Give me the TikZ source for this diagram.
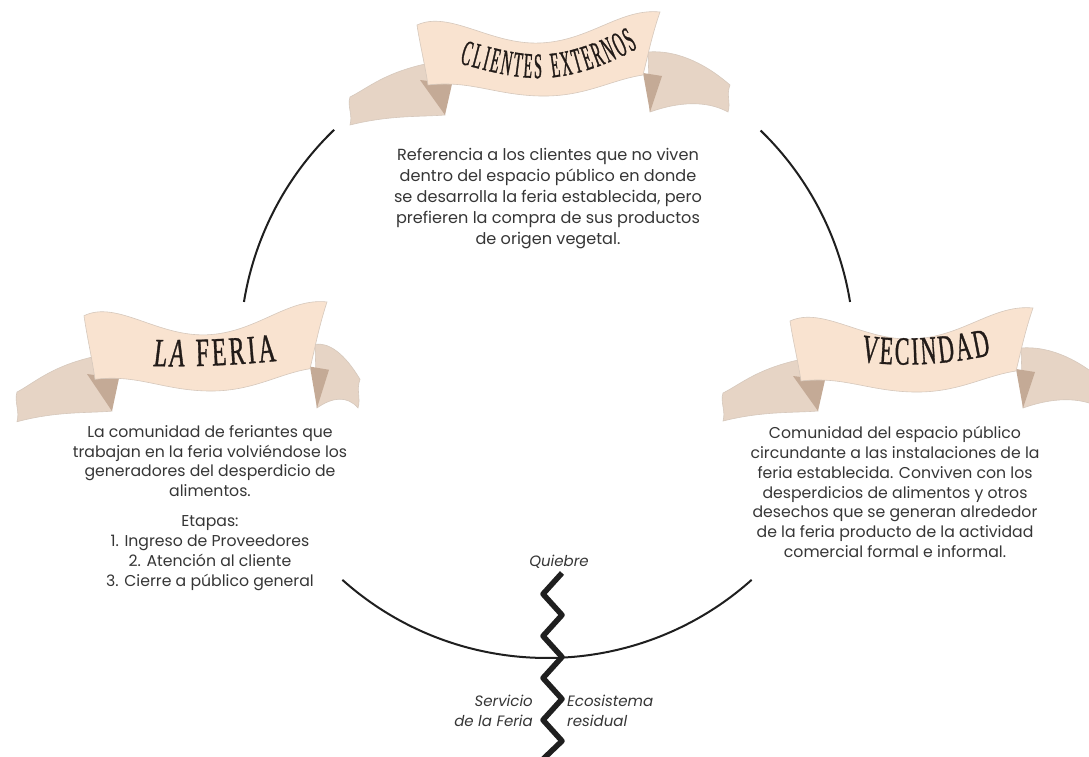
\documentclass[tikz,border=0pt]{standalone}
\usepackage{fontspec}
\setmainfont{Poppins}
\newfontfamily\bannerA[FakeStretch=0.4, FakeBold=0.8]{Liberation Serif}
\newfontfamily\bannerB[FakeStretch=0.6, FakeBold=0.8]{Liberation Serif}
\newfontfamily\bannerC[FakeStretch=0.55, FakeBold=0.8]{Liberation Serif}
\usetikzlibrary{decorations.text}

\definecolor{ink}{HTML}{1F1F1F}
\definecolor{bodytxt}{HTML}{363636}
\definecolor{ribbon}{HTML}{F9E3D0}
\definecolor{tail}{HTML}{E6D4C5}
\definecolor{fold}{HTML}{C4AA96}
\definecolor{edge}{HTML}{D6C8BC}
\definecolor{titleink}{HTML}{221B18}

% letter followed by a little tracking, kept as one box on the path
\newcommand{\tk}[1]{{#1\kern2.3pt}}
\newcommand{\tw}[1]{{#1\kern2.8pt}}
% gap between two words on a path
\newcommand{\wordgap}[1]{{\kern#1}}

\tikzset{
  ringline/.style={draw=ink, line width=2pt},
  breakline/.style={draw=ink, line width=5.5pt, line join=round},
  bodytext/.style={align=center, text=bodytxt, inner sep=0pt,
    font=\fontsize{15.7}{19.8}\selectfont},
  toptext/.style={bodytext, font=\fontsize{16.1}{21}\selectfont},
  sidelabel/.style={text=bodytxt, inner sep=0pt,
    font=\itshape\fontsize{15}{20}\selectfont},
  ribbonbody/.style={fill=ribbon, draw=edge, line width=0.6pt},
  ribbontail/.style={fill=tail, draw=edge, line width=0.6pt},
  ribbonfold/.style={fill=fold},
}

% One ribbon banner, drawn in the frame of the upper banner;
% #1 is the x of the right tail's end
\newcommand{\ribbon}[1]{%
  % left tail
  \path[ribbontail] (350,97) .. controls (368,88) and (385,72) .. (430,63)
     -- (445,115) .. controls (420,117) and (390,115) .. (350,125)
     .. controls (353,115) and (347,106) .. cycle;
  % right tail
  \path[ribbontail] (648,52) .. controls ({648+0.3*(#1-648)},50) and ({#1-0.35*(#1-648)},60) .. (#1,85)
     .. controls (#1-4,95) and (#1+1,103) .. (#1-2,112)
     .. controls ({#1-0.3*(#1-650)},100) and ({650+0.35*(#1-650)},102) .. (650,112) -- cycle;
  % folds under the body
  \path[ribbonfold] (420,80) -- (452,84) -- (445,115) -- cycle;
  \path[ribbonfold] (643,73) -- (662,76) -- (650,112) -- cycle;
  % front band
  \path[ribbonbody] (417,25) .. controls (450,10) and (490,45) .. (540,43)
     .. controls (590,41) and (620,8) .. (660,12)
     .. controls (652,35) and (648,55) .. (643,75)
     .. controls (610,80) and (585,97) .. (540,96)
     .. controls (495,95) and (470,80) .. (428,85)
     .. controls (425,65) and (420,45) .. cycle;
}

\begin{document}
\begin{tikzpicture}[x=1pt, y=-1pt]
  \fill[white] (0,0) rectangle (1089,757);
  \useasboundingbox (0,0) rectangle (1089,757);

  % the ring, broken behind the three banners
  \coordinate (ctr) at (547,351);
  \draw[ringline] (ctr) ++(-133.9:307) arc[start angle=-133.9, end angle=-170.8, radius=307];
  \draw[ringline] (ctr) ++(-45.9:307) arc[start angle=-45.9, end angle=-9.2, radius=307];
  \draw[ringline] (ctr) ++(-228.2:307) arc[start angle=-228.2, end angle=-311.8, radius=307];

  % banners
  \begin{scope}
    \ribbon{730}
  \end{scope}
  \begin{scope}[shift={(-333,289.22)}, yscale=1.06]
    \ribbon{693}
  \end{scope}
  \begin{scope}[shift={(373,296)}]
    \ribbon{730}
  \end{scope}

  % banner titles
  \path[decorate, decoration={text along path, text align=center, text color=titleink,
      text={|\bannerA\fontsize{36}{36}\selectfont|\tk{C}\tk{L}\tk{I}\tk{E}\tk{N}\tk{T}\tk{E}\tk{S}\wordgap{8pt}\tk{E}\tk{X}\tk{T}\tk{E}\tk{R}\tk{N}\tk{O}S}}]
    (444,59) .. controls (490,72) and (515,79) .. (545,78)
    .. controls (580,76) and (616,62) .. (652,40);
  \path[decorate, decoration={text along path, text align=center, text color=titleink,
      text={|\bannerB\itshape\fontsize{40}{40}\selectfont|\tw{L}\tw{A}\wordgap{9pt}|\bannerB\upshape\fontsize{40}{40}\selectfont|\tw{F}\tw{E}\tw{R}\tw{I}A}}]
    (128,365) .. controls (180,368) and (240,366) .. (302,358);
  \path[decorate, decoration={text along path, text align=center, text color=titleink,
      text={|\bannerC\fontsize{40}{40}\selectfont|\tk{V}\tk{E}\tk{C}\tk{I}\tk{N}\tk{D}\tk{A}D}}]
    (852,360) .. controls (890,367) and (940,367) .. (1000,353);

  % descriptions
  \node[toptext] (ext) at (548,199) {Referencia a los clientes que no viven\\
    dentro del espacio público en donde\\
    se desarrolla la feria establecida, pero\\
    prefieren la compra de sus productos\\
    de origen vegetal.};
  \node[bodytext] (fer) at (210,461) {La comunidad de feriantes que\\
    trabajan en la feria volviéndose los\\
    generadores del desperdicio de\\
    alimentos.};
  \node[bodytext] (eta) at (210,553) {Etapas:\\
    1. Ingreso de Proveedores\\
    2. Atención al cliente\\
    3. Cierre a público general};
  \node[bodytext] (vec) at (895,492) {Comunidad del espacio público\\
    circundante a las instalaciones de la\\
    feria establecida. Conviven con los\\
    desperdicios de alimentos y otros\\
    desechos que se generan alrededor\\
    de la feria producto de la actividad\\
    comercial formal e informal.};

  % the break
  \draw[breakline] (562,573) -- (543,594) -- (562,615) -- (543,636) -- (562,657)
    -- (543,678) -- (562,699) -- (543,720) -- (562,741) -- (540,762);
  \node[sidelabel] (qb) at (559,562) {Quiebre};
  \node[sidelabel, align=right, anchor=east] (srv) at (533,711) {Servicio\\de la Feria};
  \node[sidelabel, align=left, anchor=west] (eco) at (567,711) {Ecosistema\\residual};
\end{tikzpicture}
\end{document}
